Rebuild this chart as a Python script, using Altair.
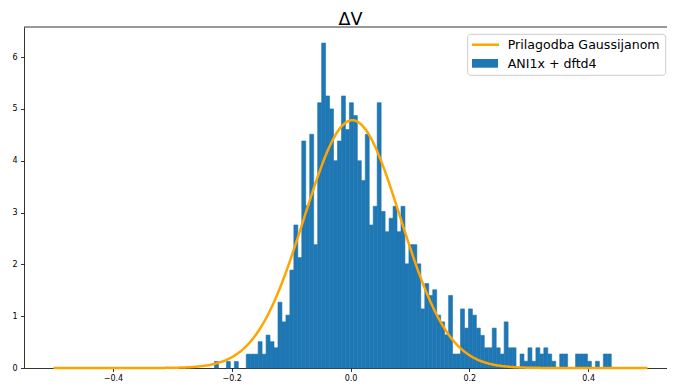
import altair as alt
import numpy as np
import pandas as pd

# ---------------- data ----------------
hist_lo = -0.229
hist_hi = 0.439
hist_density = [
    0.127, 0.0, 0.0, 0.127, 0.0, 0.127, 0.0, 0.0, 0.267, 0.267,
    0.267, 0.508, 0.267, 0.635, 0.508, 0.39, 1.27, 0.89, 1.02, 1.89,
    2.76, 2.13, 4.38, 3.13, 4.51, 2.38, 5.12, 6.27, 5.25, 5.0,
    4.0, 4.38, 5.25, 4.6, 5.12, 4.87, 4.0, 3.62, 4.51, 2.76,
    3.12, 5.12, 3.02, 2.63, 2.89, 3.12, 2.63, 3.12, 2.01, 2.38,
    2.38, 2.01, 1.14, 1.63, 1.40, 1.51, 1.02, 0.89, 0.64, 1.40,
    0.27, 0.27, 1.14, 0.77, 1.14, 1.02, 0.77, 0.63, 0.39, 0.39,
    0.77, 0.39, 0.27, 0.89, 0.39, 0.39, 0.0, 0.27, 0.13, 0.39,
    0.13, 0.39, 0.27, 0.39, 0.27, 0.13, 0.0, 0.27, 0.27, 0.0,
    0.0, 0.27, 0.27, 0.27, 0.13, 0.0, 0.13, 0.0, 0.27, 0.27,
]

# Gaussian fit parameters
fit_mu = 0.003
fit_sigma = 0.081
fit_amp = 4.78
fit_range = [-0.5, 0.5]

x_ticks = [-0.4, -0.2, 0.0, 0.2, 0.4]
y_ticks = [0, 1, 2, 3, 4, 5, 6]

title_text = "ΔV"
legend_labels = ["Prilagodba Gaussijanom", "ANI1x + dftd4"]
c_line = "#ffa500"
c_bar = "#1f77b4"

# ---------------- tables ----------------
n_bins = len(hist_density)
edges = np.linspace(hist_lo, hist_hi, n_bins + 1)
bars_df = pd.DataFrame({"x0": edges[:-1], "x1": edges[1:], "density": hist_density})

xs = np.linspace(fit_range[0], fit_range[1], 500)
curve_df = pd.DataFrame({"x": xs, "y": fit_amp * np.exp(-0.5 * ((xs - fit_mu) / fit_sigma) ** 2)})

one = pd.DataFrame({"k": [0]})

W, H = 643, 341
FONT = "DejaVu Sans"

xscale = alt.Scale(domain=[-0.5497, 0.5328], nice=False, zero=False)
yscale = alt.Scale(domain=[0, 6.58], nice=False, zero=False)

xaxis = alt.Axis(values=x_ticks, format=".1f", title=None, grid=False,
                 domain=True, domainColor="#000", domainWidth=0.8,
                 tickSize=3.5, tickWidth=0.8, tickColor="#000", labelPadding=2.5,
                 labelFontSize=8, labelColor="#000", labelFont=FONT)
yaxis = alt.Axis(values=y_ticks, format="d", title=None, grid=False,
                 domain=True, domainColor="#000", domainWidth=0.8,
                 tickSize=3.5, tickWidth=0.8, tickColor="#000", labelPadding=3.5,
                 labelFontSize=8, labelColor="#000", labelFont=FONT)

bars = alt.Chart(bars_df).transform_filter(alt.datum.density > 0).mark_rect(
    color=c_bar, stroke=c_bar, strokeWidth=0.6).encode(
    x=alt.X("x0:Q", scale=xscale, axis=xaxis),
    x2="x1:Q",
    y=alt.Y("density:Q", scale=yscale, axis=yaxis),
    y2=alt.datum(0),
)

curve = alt.Chart(curve_df).mark_line(color=c_line, strokeWidth=2.5).encode(
    x=alt.X("x:Q", scale=xscale),
    y=alt.Y("y:Q", scale=yscale),
)

# top spine (the right spine lies outside the visible picture in the reference)
top_spine = alt.Chart(one).mark_rule(color="#000", strokeWidth=0.8).encode(
    x=alt.value(0), x2=alt.value(W), y=alt.value(0))

# title, centred over the full axes
title_mark = alt.Chart(one).mark_text(align="center", baseline="alphabetic", fontSize=17.5,
                                      font=FONT, color="#000").encode(
    x=alt.value(326.5), y=alt.value(-2), text=alt.value(title_text))

# ---------------- legend (drawn inside the plot, upper right) ----------------
LX = -5
box = alt.Chart(one).mark_rect(fill="white", fillOpacity=0.8, stroke="#cccccc",
                               strokeWidth=1, cornerRadius=3).encode(
    x=alt.value(448.7 + LX), x2=alt.value(646.7 + LX), y=alt.value(7.3), y2=alt.value(48.3))
sw_line = alt.Chart(one).mark_rule(color=c_line, strokeWidth=2.5).encode(
    x=alt.value(453 + LX), x2=alt.value(480 + LX), y=alt.value(17.7))
sw_bar = alt.Chart(one).mark_rect(color=c_bar).encode(
    x=alt.value(453 + LX), x2=alt.value(479 + LX), y=alt.value(32), y2=alt.value(40.7))
t1 = alt.Chart(one).mark_text(align="left", baseline="alphabetic", fontSize=12.6,
                              font=FONT, color="#000").encode(
    x=alt.value(488.7 + LX), y=alt.value(22), text=alt.value(legend_labels[0]))
t2 = alt.Chart(one).mark_text(align="left", baseline="alphabetic", fontSize=12.6,
                              font=FONT, color="#000").encode(
    x=alt.value(488.7 + LX), y=alt.value(41), text=alt.value(legend_labels[1]))

chart = alt.layer(bars, curve, top_spine, title_mark, box, sw_line, sw_bar, t1, t2).properties(
    width=W, height=H,
    autosize=alt.AutoSizeParams(type="none"),
    padding={"left": 16, "top": 19, "right": 0, "bottom": 15},
).configure_view(stroke=None)

chart.save("out.html", embed_options={"renderer": "svg", "actions": False})
